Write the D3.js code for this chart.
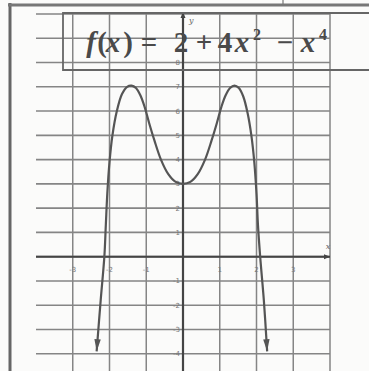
<!DOCTYPE html>
<html>
<head>
<meta charset="utf-8">
<script src="https://cdn.jsdelivr.net/npm/d3@7"></script>
<style>
  html, body { margin: 0; padding: 0; background: #fbfbfa; }
  svg { display: block; }
</style>
</head>
<body>
<svg id="chart" width="369" height="371"></svg>
<script>
// Tick values for the grid
const xTicks = [-3, -2, -1, 1, 2, 3];
const yTicks = [-4, -3, -2, -1, 1, 2, 3, 4, 5, 6, 7, 8];
const xGrid = [-3, -2, -1, 0, 1, 2, 3, 4];
const yGrid = [-4, -3, -2, -1, 0, 1, 2, 3, 4, 5, 6, 7, 8, 9, 10];

// Points along the plotted curve
const curveX = [-2.35, -2.24, -2.14, -2.1, -2.06, -2.0, -1.92, -1.8, -1.66, -1.52, -1.4, -1.28, -1.16, -1.04, -0.92, -0.78, -0.6, -0.4, -0.2, 0,
                0.2, 0.4, 0.6, 0.78, 0.92, 1.04, 1.16, 1.28, 1.4, 1.52, 1.64, 1.76, 1.86, 1.94, 2.0, 2.04, 2.1, 2.2, 2.29];
const curveY = [-3.9, -1.8, 0, 1.3, 2.6, 3.9, 5.0, 6.0, 6.7, 7.0, 7.05, 6.95, 6.65, 6.15, 5.5, 4.8, 4.0, 3.4, 3.08, 3.0,
                3.08, 3.4, 4.0, 4.8, 5.5, 6.15, 6.65, 6.95, 7.05, 6.95, 6.6, 5.9, 5.0, 3.9, 2.6, 1.3, 0, -1.8, -3.9];

const svg = d3.select("#chart");
const x = d3.scaleLinear().domain([-4, 4]).range([36, 330]);
const y = d3.scaleLinear().domain([-5, 10]).range([378, 14]);

const gridColor = "#858585";

// outer frame of the page
svg.append("line").attr("x1", 10).attr("x2", 10).attr("y1", 3).attr("y2", 371)
  .attr("stroke", "#666").attr("stroke-width", 3);
svg.append("line").attr("x1", 8).attr("x2", 369).attr("y1", 5).attr("y2", 5)
  .attr("stroke", "#777").attr("stroke-width", 3);
svg.append("line").attr("x1", 283).attr("x2", 283).attr("y1", 0).attr("y2", 5)
  .attr("stroke", "#777").attr("stroke-width", 1.2);

// grid
const g = svg.append("g");
g.selectAll(".hg").data(yGrid).join("line")
  .attr("x1", x(-4)).attr("x2", x(4))
  .attr("y1", d => y(d)).attr("y2", d => y(d))
  .attr("stroke", gridColor).attr("stroke-width", 1.6);
g.selectAll(".vg").data(xGrid).join("line")
  .attr("x1", d => x(d)).attr("x2", d => x(d))
  .attr("y1", y(10)).attr("y2", 371)
  .attr("stroke", gridColor).attr("stroke-width", 1.5);

// axes
svg.append("line").attr("x1", x(-4)).attr("x2", x(4)).attr("y1", y(0)).attr("y2", y(0))
  .attr("stroke", "#444").attr("stroke-width", 2);
svg.append("line").attr("x1", x(0)).attr("x2", x(0)).attr("y1", y(10)).attr("y2", 371)
  .attr("stroke", "#444").attr("stroke-width", 2.2);
svg.append("path")
  .attr("d", `M${x(4)},${y(0)} l-6,-2.5 l0,5 Z`).attr("fill", "#444");
svg.append("path")
  .attr("d", `M${x(0)},${y(10) - 2} l-2.5,6 l5,0 Z`).attr("fill", "#444");

// tick labels
svg.selectAll(".xt").data(xTicks).join("text")
  .attr("x", d => x(d)).attr("y", y(0) + 15)
  .attr("text-anchor", "middle")
  .attr("font-family", "DejaVu Sans").attr("font-size", 7)
  .attr("fill", "#777").text(d => d);
svg.selectAll(".yt").data(yTicks).join("text")
  .attr("x", x(0) - 3).attr("y", d => y(d) + 2.5)
  .attr("text-anchor", "end")
  .attr("font-family", "DejaVu Sans").attr("font-size", 7)
  .attr("fill", "#777").text(d => d);
svg.append("text").attr("x", x(4) - 2).attr("y", y(0) - 8)
  .attr("text-anchor", "middle").attr("font-family", "DejaVu Serif").attr("font-style", "italic")
  .attr("font-size", 8).attr("fill", "#666").text("x");
svg.append("text").attr("x", x(0) + 6).attr("y", y(10) + 9)
  .attr("font-family", "DejaVu Serif").attr("font-style", "italic")
  .attr("font-size", 8).attr("fill", "#666").text("y");

// function curve
const line = d3.line().x((d, i) => x(curveX[i])).y(d => y(d)).curve(d3.curveCatmullRom.alpha(0.5));
svg.append("path").datum(curveY).attr("d", line)
  .attr("fill", "none").attr("stroke", "#555").attr("stroke-width", 2.2);

// arrowheads at both ends of the curve
function arrowAt(i0, i1) {
  const px = x(curveX[i0]), py = y(curveY[i0]);
  const qx = x(curveX[i1]), qy = y(curveY[i1]);
  const a = Math.atan2(py - qy, px - qx) * 180 / Math.PI;
  svg.append("path").attr("d", "M0,0 L-12,-3.2 L-12,3.2 Z")
    .attr("transform", `translate(${px},${py}) rotate(${a})`)
    .attr("fill", "#555");
}
arrowAt(0, 1);
arrowAt(curveX.length - 1, curveX.length - 2);

// title box with the formula
svg.append("path")
  .attr("d", `M369,13 L63,13 L63,70 L369,70`)
  .attr("fill", "none").attr("stroke", "#666").attr("stroke-width", 1.8);

// formula glyphs: [text, centre x, italic, superscript]
const formula = [
  ["f", 91, true, false], ["(", 102, false, false], ["x", 113, true, false], [")", 128, false, false],
  ["=", 149, false, false], ["2", 181, false, false], ["+", 204, false, false],
  ["4", 225, false, false], ["x", 242, true, false], ["2", 257, false, true],
  ["−", 285, false, false], ["x", 308, true, false], ["4", 323, false, true]
];
const title = svg.append("text")
  .attr("text-anchor", "middle")
  .attr("font-family", "Liberation Serif").attr("font-weight", "bold")
  .attr("fill", "#4a4a4a");
title.selectAll("tspan").data(formula).join("tspan")
  .attr("x", d => d[1]).attr("y", d => d[3] ? 40 : 52)
  .attr("font-style", d => d[2] ? "italic" : "normal")
  .attr("font-size", d => d[3] ? 16 : 29)
  .text(d => d[0]);
</script>
</body>
</html>
